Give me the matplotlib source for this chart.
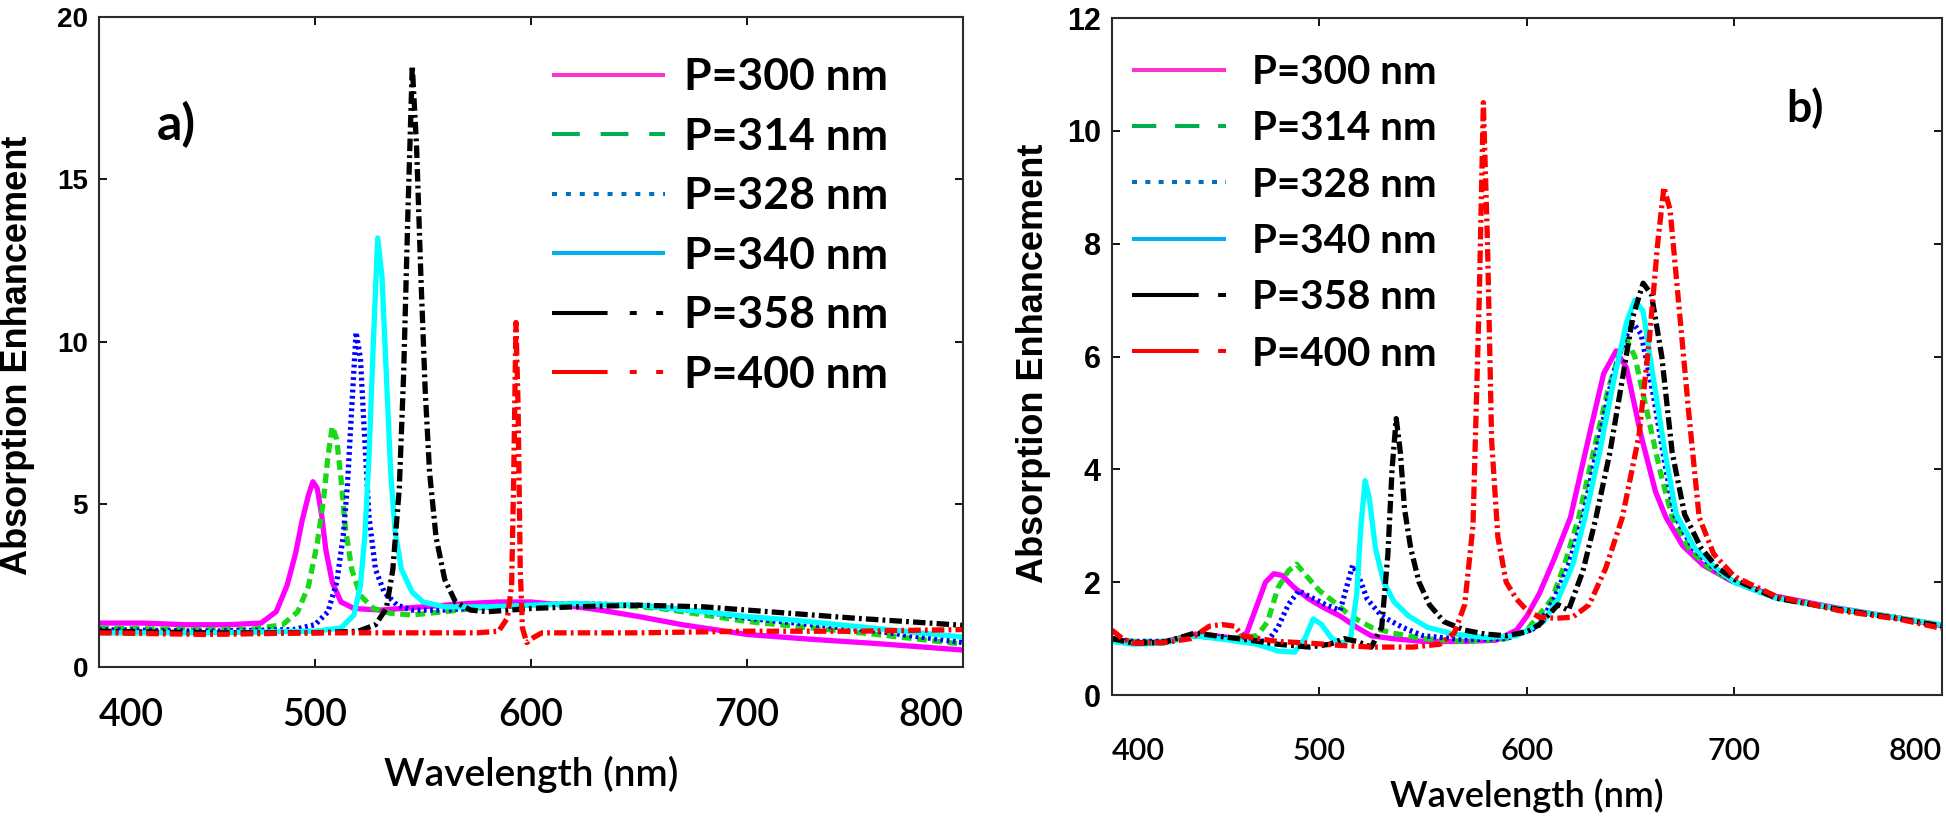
import matplotlib
matplotlib.use("Agg")
import matplotlib.pyplot as plt
from matplotlib.lines import Line2D

plt.rcParams['lines.scale_dashes'] = False

# ---------------- data: panel a ----------------
a_p300_x = [400, 420, 440, 460, 475, 482, 487, 491, 494, 497, 499, 501, 503, 505, 508, 512, 518, 530,
            550, 570, 585, 600, 615, 632, 650, 670, 700, 730, 760, 800]
a_p300_y = [1.35, 1.35, 1.3, 1.3, 1.35, 1.7, 2.5, 3.5, 4.5, 5.3, 5.7, 5.5, 4.7, 3.6, 2.6, 2.0, 1.8, 1.75,
            1.85, 1.95, 2.0, 2.0, 1.9, 1.75, 1.55, 1.3, 1.0, 0.85, 0.72, 0.52]

a_p314_x = [400, 440, 470, 485, 492, 497, 501, 504, 506, 508, 510, 512, 514, 517, 521, 527, 535, 545,
            560, 580, 600, 620, 640, 660, 680, 700, 730, 760, 800]
a_p314_y = [1.2, 1.15, 1.15, 1.3, 1.7, 2.5, 3.8, 5.2, 6.5, 7.4, 7.0, 5.8, 4.3, 3.0, 2.2, 1.8, 1.65, 1.6,
            1.7, 1.85, 1.9, 1.95, 1.9, 1.8, 1.6, 1.4, 1.2, 1.0, 0.7]

a_p328_x = [400, 450, 490, 500, 506, 510, 513, 515, 517, 519, 521, 523, 525, 528, 532, 538, 545, 560,
            580, 600, 620, 650, 680, 700, 730, 760, 800]
a_p328_y = [1.15, 1.1, 1.15, 1.3, 1.7, 2.6, 4.0, 5.6, 8.0, 10.3, 9.5, 7.0, 4.6, 3.0, 2.3, 1.9, 1.75, 1.75,
            1.85, 1.9, 1.95, 1.9, 1.7, 1.5, 1.3, 1.1, 0.75]

a_p340_x = [400, 450, 500, 512, 518, 521, 523, 525, 527, 529, 531, 533, 535, 537, 540, 545, 550, 560,
            580, 600, 620, 650, 680, 700, 720, 750, 780, 800]
a_p340_y = [1.05, 1.05, 1.1, 1.2, 1.6, 2.5, 4.0, 6.5, 10.0, 13.2, 12.0, 9.0, 6.0, 4.2, 3.0, 2.3, 2.0, 1.85,
            1.85, 1.9, 1.95, 1.9, 1.7, 1.55, 1.45, 1.25, 1.05, 0.92]

a_p358_x = [400, 450, 500, 520, 528, 533, 536, 539, 541, 543, 545, 547, 549, 551, 553, 556, 560, 565,
            572, 580, 600, 620, 650, 680, 700, 720, 750, 780, 800]
a_p358_y = [1.1, 1.05, 1.05, 1.1, 1.3, 1.8, 3.0, 5.5, 9.0, 14.0, 18.5, 16.0, 12.0, 8.5, 6.0, 4.0, 2.7, 2.0,
            1.75, 1.7, 1.8, 1.85, 1.9, 1.85, 1.75, 1.65, 1.5, 1.37, 1.28]

a_p400_x = [400, 450, 500, 550, 575, 585, 589, 591, 592, 593, 594, 595, 596, 598, 601, 605, 650, 700,
            750, 800]
a_p400_y = [1.05, 1.0, 1.05, 1.05, 1.05, 1.1, 1.5, 2.5, 6.0, 10.6, 8.0, 3.0, 1.2, 0.75, 0.9, 1.05, 1.05,
            1.1, 1.1, 1.15]

# ---------------- data: panel b ----------------
b_p300_x = [400, 410, 425, 440, 450, 460, 465, 470, 474, 478, 482, 488, 495, 502, 510, 518, 525, 535,
            550, 570, 585, 595, 600, 606, 613, 621, 630, 637, 643, 648, 655, 662, 667, 675, 685, 698,
            720, 750, 780, 800]
b_p300_y = [1.0, 0.93, 0.94, 1.08, 1.05, 1.0, 1.1, 1.6, 2.0, 2.15, 2.12, 1.9, 1.7, 1.55, 1.4, 1.2, 1.05,
            1.0, 0.95, 0.95, 0.97, 1.15, 1.4, 1.8, 2.4, 3.15, 4.6, 5.7, 6.1, 5.8, 4.6, 3.6, 3.15, 2.65,
            2.3, 2.03, 1.75, 1.54, 1.36, 1.23]

b_p314_x = [400, 410, 425, 440, 455, 470, 475, 480, 485, 489, 494, 500, 507, 515, 525, 535, 550, 570,
            590, 600, 612, 618, 625, 632, 639, 645, 648, 652, 658, 664, 670, 678, 688, 700, 720, 750,
            780, 800]
b_p314_y = [1.0, 0.95, 0.95, 1.05, 1.0, 1.05, 1.3, 1.9, 2.2, 2.32, 2.1, 1.85, 1.65, 1.4, 1.2, 1.1, 1.0,
            0.95, 1.0, 1.15, 1.7, 2.3, 3.15, 4.3, 5.4, 6.1, 6.3, 6.0, 5.0, 4.0, 3.15, 2.6, 2.25, 2.0,
            1.72, 1.53, 1.36, 1.24]

b_p328_x = [400, 410, 425, 440, 455, 475, 480, 485, 490, 495, 503, 510, 513, 516, 519, 523, 530, 540,
            550, 570, 590, 605, 613, 620, 627, 634, 641, 647, 651, 655, 661, 666, 671, 680, 690, 700,
            720, 750, 780, 800]
b_p328_y = [1.0, 0.95, 0.95, 1.05, 1.0, 0.95, 1.2, 1.6, 1.85, 1.75, 1.6, 1.5, 1.9, 2.3, 2.1, 1.7, 1.4,
            1.2, 1.05, 0.98, 1.0, 1.2, 1.7, 2.3, 3.15, 4.4, 5.6, 6.3, 6.6, 6.4, 5.3, 4.2, 3.2, 2.6,
            2.25, 2.0, 1.72, 1.53, 1.36, 1.24]

b_p340_x = [400, 410, 425, 440, 455, 470, 480, 488, 493, 497, 501, 506, 511, 515, 518, 520, 522, 524,
            527, 531, 536, 543, 552, 565, 580, 595, 608, 615, 622, 628, 635, 642, 648, 652, 656, 661,
            667, 672, 681, 691, 700, 720, 750, 780, 800]
b_p340_y = [0.95, 0.9, 0.92, 1.05, 0.98, 0.9, 0.78, 0.76, 1.0, 1.35, 1.25, 1.0, 0.92, 1.0, 1.8, 3.0, 3.8,
            3.5, 2.6, 2.0, 1.65, 1.4, 1.2, 1.08, 1.02, 1.05, 1.3, 1.7, 2.3, 3.15, 4.3, 5.6, 6.6, 7.0,
            6.8, 5.6, 4.2, 3.2, 2.6, 2.25, 2.0, 1.72, 1.53, 1.36, 1.24]

b_p358_x = [400, 410, 425, 440, 450, 465, 480, 495, 505, 512, 518, 525, 530, 533, 535, 537, 539, 541,
            544, 548, 553, 560, 570, 580, 590, 600, 606, 615, 620, 627, 633, 640, 646, 651, 656, 660,
            665, 670, 676, 684, 692, 700, 720, 750, 780, 800]
b_p358_y = [1.0, 0.92, 0.93, 1.1, 1.05, 0.98, 0.9, 0.85, 0.9, 1.0, 0.95, 0.85, 1.2, 2.5, 4.0, 4.9, 4.3,
            3.3, 2.6, 2.0, 1.6, 1.3, 1.15, 1.08, 1.05, 1.12, 1.25, 1.6, 1.5, 2.2, 3.1, 4.3, 5.6, 6.7,
            7.3, 7.1, 6.0, 4.3, 3.2, 2.6, 2.25, 2.05, 1.72, 1.52, 1.35, 1.22]

b_p400_x = [400, 405, 410, 425, 438, 447, 453, 459, 463, 470, 480, 495, 510, 525, 545, 558, 565, 570,
            574, 577, 579, 581, 583, 586, 590, 595, 600, 606, 614, 622, 630, 638, 646, 654, 659, 663,
            666, 669, 673, 678, 683, 690, 700, 720, 750, 780, 800]
b_p400_y = [1.15, 1.0, 0.92, 0.93, 1.0, 1.22, 1.25, 1.22, 1.05, 1.0, 0.95, 0.92, 0.88, 0.85, 0.85, 0.9,
            1.1, 1.6, 3.0, 7.0, 10.5, 8.0, 4.5, 2.8, 2.0, 1.7, 1.5, 1.38, 1.36, 1.38, 1.6, 2.25, 3.15,
            4.6, 6.3, 8.0, 9.0, 8.6, 7.0, 5.0, 3.15, 2.5, 2.1, 1.75, 1.5, 1.34, 1.18]

labels = ["P=300 nm", "P=314 nm", "P=328 nm", "P=340 nm", "P=358 nm", "P=400 nm"]
x_ticks = [400, 500, 600, 700, 800]
a_yticks = [0, 5, 10, 15, 20]
b_yticks = [0, 2, 4, 6, 8, 10, 12]

# line colours of the curves and of the (re-drawn) legend keys
curve_colors = ["#ff00ff", "#18d818", "#0000ff", "#00ffff", "#000000", "#ff0000"]
key_colors = ["#ff33cc", "#00b050", "#0070c0", "#00b0f0", "#000000", "#ff0000"]
curve_styles = ["-", (0, (7, 4)), (0, (2, 2.5)), "-", (0, (9, 3, 2, 3)), (0, (9, 3, 2, 3))]

SANS = "Liberation Sans"
CAL = "Lato"

fig = plt.figure(figsize=(19.46, 8.23), dpi=100)
ax_a = fig.add_axes([0.0509, 0.1896, 0.4440, 0.7898])
ax_b = fig.add_axes([0.5714, 0.1555, 0.4265, 0.8226])


def draw_panel(ax, series, ylim, yticks, ytick_size, xtick_size, xtick_pad, ylab_size, xlab_size):
    for (xs, ys), c, ls in zip(series, curve_colors, curve_styles):
        ax.plot(xs, ys, color=c, linestyle=ls, linewidth=3.8, dash_capstyle="butt")
    ax.set_xlim(400, 800)
    ax.set_ylim(*ylim)
    ax.set_xticks(x_ticks)
    ax.set_xticklabels([str(t) for t in x_ticks], fontfamily=CAL, fontweight="semibold",
                       fontsize=xtick_size)
    tl = ax.get_xticklabels()
    tl[0].set_ha("left")
    tl[-1].set_ha("right")
    ax.set_yticks(yticks)
    ax.set_yticklabels([str(t) for t in yticks], fontfamily=SANS, fontweight="bold",
                       fontsize=ytick_size)
    ax.tick_params(direction="in", top=True, right=True, length=6, width=1.3)
    ax.tick_params(axis="y", pad=8)
    ax.tick_params(axis="x", pad=xtick_pad)
    for sp in ax.spines.values():
        sp.set_linewidth(1.5)
        sp.set_color("#2b2b2b")
    ax.set_ylabel("Absorption Enhancement", fontfamily=SANS, fontweight="bold",
                  fontsize=ylab_size, va="center")
    ax.set_xlabel("Wavelength (nm)", fontfamily=CAL, fontweight="semibold",
                  fontsize=xlab_size, va="center")


def legend_keys(dashes):
    keys = []
    for c, ls in zip(key_colors, dashes):
        keys.append(Line2D([], [], color=c, linestyle=ls, linewidth=2.9,
                           dash_capstyle="butt", solid_capstyle="butt"))
    return keys


series_a = [(a_p300_x, a_p300_y), (a_p314_x, a_p314_y), (a_p328_x, a_p328_y),
            (a_p340_x, a_p340_y), (a_p358_x, a_p358_y), (a_p400_x, a_p400_y)]
series_b = [(b_p300_x, b_p300_y), (b_p314_x, b_p314_y), (b_p328_x, b_p328_y),
            (b_p340_x, b_p340_y), (b_p358_x, b_p358_y), (b_p400_x, b_p400_y)]

draw_panel(ax_a, series_a, (0, 20), a_yticks, 20, 27, 22, 26, 28)
draw_panel(ax_b, series_b, (0, 12), b_yticks, 22, 22, 30, 26, 26)

ax_a.yaxis.set_label_coords(-0.094, 0.48)
ax_a.xaxis.set_label_coords(0.5, -0.166)
ax_b.yaxis.set_label_coords(-0.095, 0.49)
ax_b.xaxis.set_label_coords(0.5, -0.148)

dash_a = ["-", (0, (20, 15)), (0, (3.6, 6.4)), "-", (0, (40, 16, 5, 14, 5, 16)), (0, (40, 16, 5, 14, 5, 16))]
dash_b = ["-", (0, (17.5, 13.5)), (0, (3.6, 6.0)), "-", (0, (48, 14, 6, 14)), (0, (48, 14, 6, 14))]

ax_a.legend(legend_keys(dash_a), labels, loc="upper left", bbox_to_anchor=(0.524, 0.938),
            frameon=False, borderpad=0, borderaxespad=0, handlelength=2.54, handletextpad=0.43,
            labelspacing=0.44, prop={"family": CAL, "weight": "bold", "size": 32})
ax_b.legend(legend_keys(dash_b), labels, loc="upper left", bbox_to_anchor=(0.024, 0.947),
            frameon=False, borderpad=0, borderaxespad=0, handlelength=2.33, handletextpad=0.65,
            labelspacing=0.48, prop={"family": CAL, "weight": "bold", "size": 29})

ax_a.text(0.089, 0.835, "a)", transform=ax_a.transAxes, ha="center", va="center",
          fontfamily=CAL, fontweight="bold", fontsize=36)
ax_b.text(0.835, 0.867, "b)", transform=ax_b.transAxes, ha="center", va="center",
          fontfamily=CAL, fontweight="bold", fontsize=32)

fig.savefig("out.png", dpi=100)
